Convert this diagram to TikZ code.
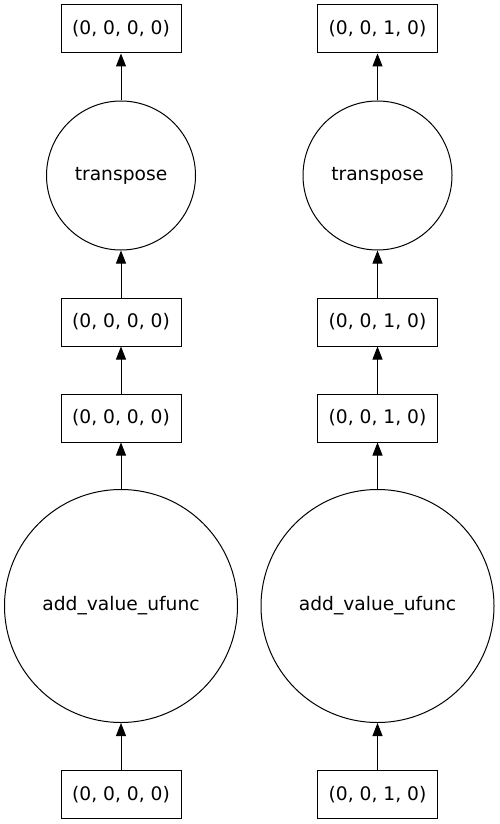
\documentclass[tikz,border=0pt]{standalone}
\usepackage{fontspec}
\setmainfont{DejaVu Sans}
\usetikzlibrary{arrows.meta}
\begin{document}
\begin{tikzpicture}[x=1pt,y=-1pt,
  every node/.style={font=\fontsize{18.67}{22}\selectfont, line width=1pt, inner sep=0pt},
  keybox/.style={draw, rectangle, minimum width=120pt, minimum height=48pt},
  task/.style={draw, circle},
  edge/.style={line width=1pt, -{Triangle[length=13pt,width=10pt]}}]
\useasboundingbox (0,0) rectangle (499,824);
\foreach \c/\x/\k in {L/121/0, R/377.5/1} {
  \node[keybox] (\c top) at (\x,29) {(0, 0, \k, 0)};
  \node[task, minimum size=149pt] (\c tr) at (\x,175.5) {transpose};
  \node[keybox] (\c b2) at (\x,322) {(0, 0, \k, 0)};
  \node[keybox] (\c b3) at (\x,418) {(0, 0, \k, 0)};
  \node[task, minimum size=233pt] (\c add) at (\x,606) {add\_value\_ufunc};
  \node[keybox] (\c bot) at (\x,794.5) {(0, 0, \k, 0)};
  \draw[edge] (\c bot) -- (\c add);
  \draw[edge] (\c add) -- (\c b3);
  \draw[edge] (\c b3) -- (\c b2);
  \draw[edge] (\c b2) -- (\c tr);
  \draw[edge] (\c tr) -- (\c top);
}
\end{tikzpicture}
\end{document}
